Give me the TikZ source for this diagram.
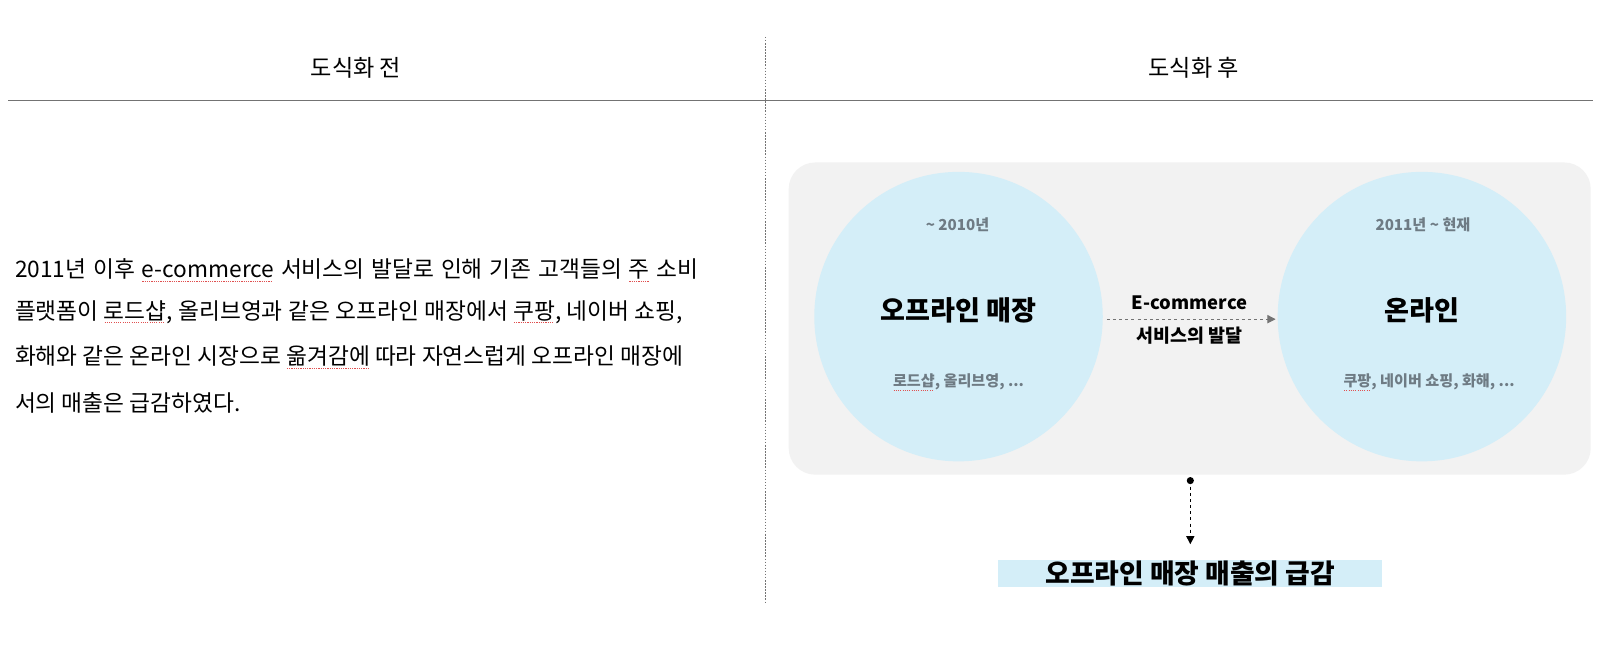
\documentclass[tikz,border=0pt]{standalone}
\usepackage{fontspec}
\setmainfont{Noto Sans CJK KR}
\usetikzlibrary{arrows.meta,shapes.geometric}
\definecolor{lineg}{HTML}{737373}
\definecolor{panel}{HTML}{F2F2F2}
\definecolor{sky}{HTML}{D4EEF8}
\definecolor{subg}{HTML}{6E7B84}
\definecolor{spellred}{HTML}{E05050}
\newcommand\spell[1]{\setbox0\hbox{#1}\rlap{\raisebox{-4pt}{\color{spellred}\hbox to \wd0{\leaders\hbox to 2.2pt{\hss\rule{1.1pt}{0.9pt}\hss}\hfill}}}\box0\relax}
\newcommand\fitline[2]{\hbox to #1{\spaceskip=\fontdimen2\font plus 1fil\relax #2}}
\tikzset{
  head/.style={font=\fontsize{22.6}{26}\selectfont, inner sep=0pt},
  para/.style={font=\fontsize{22.2}{26}\selectfont, inner sep=0pt, anchor=west},
  circ/.style={ellipse, fill=sky, minimum width=282pt, minimum height=283pt, inner sep=0pt},
  sub/.style={font=\fontsize{14.8}{17}\selectfont\bfseries, text=subg, inner sep=0pt},
  big/.style={font=\fontsize{26.5}{30}\selectfont\bfseries, inner sep=0pt},
  mid/.style={font=\fontsize{18}{20}\selectfont\bfseries, inner sep=0pt},
}
\begin{document}
\begin{tikzpicture}[x=1pt,y=-1pt]
\useasboundingbox[fill=white] (0,0) rectangle (1568,649);
% frame lines
\coordinate (vtop) at (748,36);
\coordinate (vbot) at (748,591);
\draw[lineg, line width=0.8pt, dash pattern=on 1.5pt off 1.5pt] (vtop) -- (vbot);
\coordinate (hl) at (8,98.4);
\coordinate (hr) at (1557,98.4);
\draw[lineg, line width=1.5pt] (hl) -- (hr);
\node[head] (h1) at (348,66) {도식화 전};
\node[head] (h2) at (1167,66) {도식화 후};
% paragraph
\node[para] (p1) at (14.5,264) {\fitline{668pt}{2011년 이후 \spell{e-commerce} 서비스의 발달로 인해 기존 고객들의 \spell{주} 소비}};
\node[para] (p2) at (14.5,305) {\fitline{653pt}{플랫폼이 \spell{로드샵}, 올리브영과 같은 오프라인 매장에서 \spell{쿠팡}, 네이버 쇼핑,}};
\node[para] (p3) at (14.5,349) {\fitline{653pt}{화해와 같은 온라인 시장으로 \spell{옮겨감에} 따라 자연스럽게 오프라인 매장에}};
\node[para] (p4) at (14.5,394) {서의 매출은 급감하였다.};
% panel
\fill[panel, rounded corners=26pt] (771,158.8) rectangle (1555,464);
\node[circ] (c1) at (937,309.5) {};
\node[circ] (c2) at (1390,309.5) {};
\node[sub] (s1) at (936,220) {\textasciitilde{} 2010년};
\node[sub] (s2) at (1391,220) {2011년 \textasciitilde{} 현재};
\node[big] (b1) at (937,303) {오프라인 매장};
\node[big] (b2) at (1390,303) {온라인};
\node[sub] (e1) at (937,374) {\spell{로드샵}, 올리브영, ...};
\node[sub] (e2) at (1397,374) {\spell{쿠팡}, 네이버 쇼핑, 화해, ...};
\coordinate (a1) at (1082,312);
\coordinate (a2) at (1247,312);
\draw[lineg, line width=1pt, dash pattern=on 3pt off 3pt, -{Triangle[length=8pt,width=8pt]}] (a1) -- (a2);
\node[mid] (m1) at (1163,296) {E-commerce};
\node[mid] (m2) at (1163,328) {서비스의 발달};
% result
\node[fill=sky, minimum width=375pt, minimum height=27pt, inner sep=0pt, font=\fontsize{26.2}{30}\selectfont\bfseries] (r) at (1163.5,560.5) {오프라인 매장 매출의 급감};
\coordinate (d1) at (1163.6,469.8);
\fill (d1) circle (3.5pt);
\draw[line width=1.2pt, dash pattern=on 3pt off 3pt, -{Triangle[length=8pt,width=8pt]}] (d1) -- (d1 |- 0,532);
\end{tikzpicture}
\end{document}
